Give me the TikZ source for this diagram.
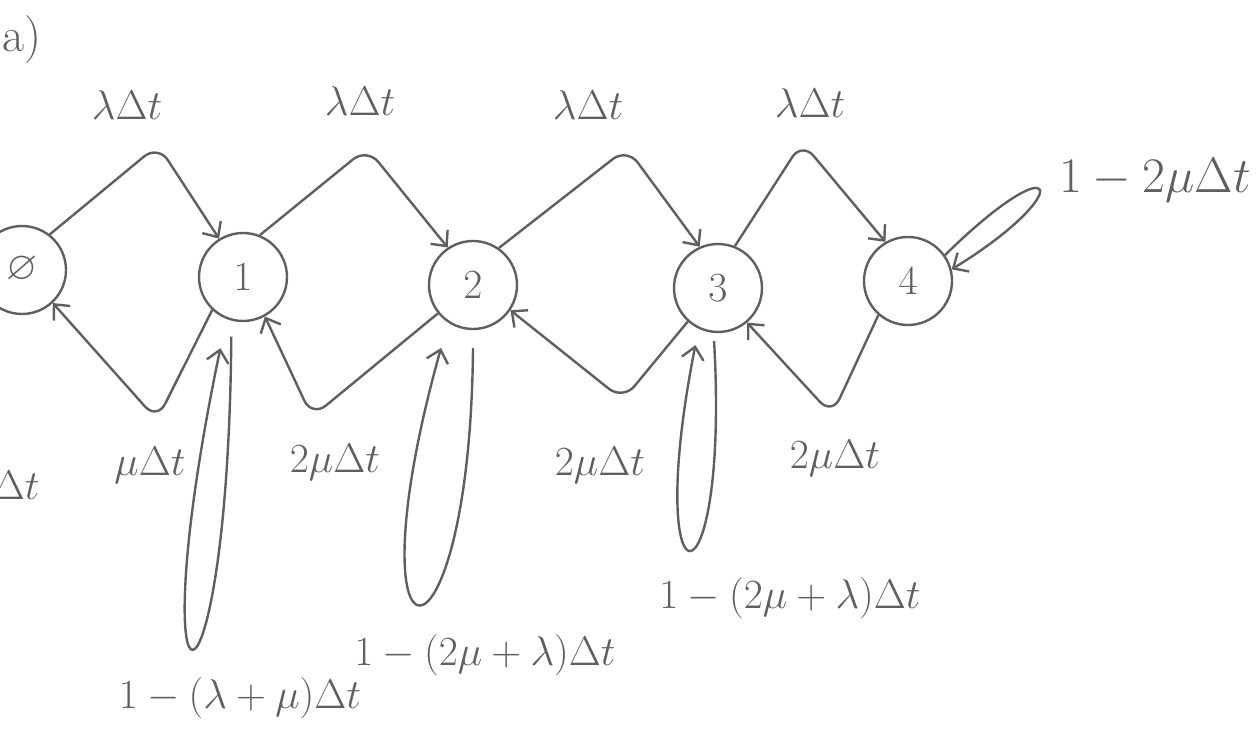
\documentclass[tikz,border=0pt]{standalone}
\usepackage{amssymb}
\usetikzlibrary{arrows.meta}
\definecolor{pen}{RGB}{95,95,95}
\begin{document}
\begin{tikzpicture}[x=0.5pt,y=-0.5pt,
  state/.style={circle,draw=pen,line width=1.2pt,minimum size=44pt,inner sep=0pt,text=pen,font=\fontsize{20}{24}\selectfont},
  edge/.style={draw=pen,line width=1.2pt,-{Straight Barb[length=6pt,width=11pt]},rounded corners=9pt},
  lbl/.style={text=pen,font=\fontsize{21}{25}\selectfont,inner sep=0pt}]
\useasboundingbox (0,0) rectangle (1258,742);

% states
\node[state] (n0) at (22,270) {$\varnothing$};
\node[state] (n1) at (243,277) {$1$};
\node[state] (n2) at (473,285) {$2$};
\node[state] (n3) at (718,288) {$3$};
\node[state] (n4) at (908,281) {$4$};

% bend points
\coordinate (p01) at (158,145);
\coordinate (p12) at (367,148);
\coordinate (p23) at (627,148);
\coordinate (p34) at (802,142);
\coordinate (v10) at (157,420);
\coordinate (v21) at (312,417);
\coordinate (v32) at (623,400);
\coordinate (v43) at (832,415);

% forward transitions
\draw[edge] (n0.52) -- (p01) -- (n1.122);
\draw[edge] (n1.68) -- (p12) -- (n2.124);
\draw[edge] (n2.55) -- (p23) -- (n3.114);
\draw[edge] (n3.68) -- (p34) -- (n4.120);

% backward transitions
\draw[edge] (n1.227) -- (v10) -- (n0.313);
\draw[edge] (n2.219) -- (v21) -- (n1.299);
\draw[edge] (n3.228) -- (v32) -- (n2.326);
\draw[edge] (n4.229) -- (v43) -- (n3.310);

% self loops
\draw[edge] ([yshift=-8pt]n1.255) .. controls (228,752) and (136,752) .. ([yshift=-16pt]n1.240);
\draw[edge] ([yshift=-9pt]n2.270) .. controls (470,691) and (345,691) .. ([yshift=-15.5pt]n2.225);
\draw[edge] ([yshift=-4pt]n3.265) .. controls (730,620) and (641,620) .. ([yshift=-9pt]n3.240);
\draw[edge] (n4.35) .. controls (1062,140) and (1078,192) .. (n4.15);

% labels
\node[lbl,font=\fontsize{24}{28}\selectfont] (ta) at (22,40) {a)};
\node[lbl] (l01) at (127,105) {$\lambda\Delta t$};
\node[lbl] (l12) at (360,101) {$\lambda\Delta t$};
\node[lbl] (l23) at (588,105) {$\lambda\Delta t$};
\node[lbl] (l34) at (810,103) {$\lambda\Delta t$};
\node[lbl] (l10) at (150,465) {$\mu\Delta t$};
\node[lbl] (l21) at (335,462) {$2\mu\Delta t$};
\node[lbl] (l32) at (600,465) {$2\mu\Delta t$};
\node[lbl] (l43) at (835,458) {$2\mu\Delta t$};
\node[lbl,font=\fontsize{20}{24}\selectfont] (s1) at (240,698) {$1-(\lambda+\mu)\Delta t$};
\node[lbl,font=\fontsize{20}{24}\selectfont] (s2) at (485,655) {$1-(2\mu+\lambda)\Delta t$};
\node[lbl] (s3) at (790,598) {$1-(2\mu+\lambda)\Delta t$};
\node[lbl,font=\fontsize{24}{28}\selectfont] (s4) at (1155,180) {$1-2\mu\Delta t$};
\node[lbl,anchor=east] (s0) at (40,485) {$\Delta t$};
\end{tikzpicture}
\end{document}
